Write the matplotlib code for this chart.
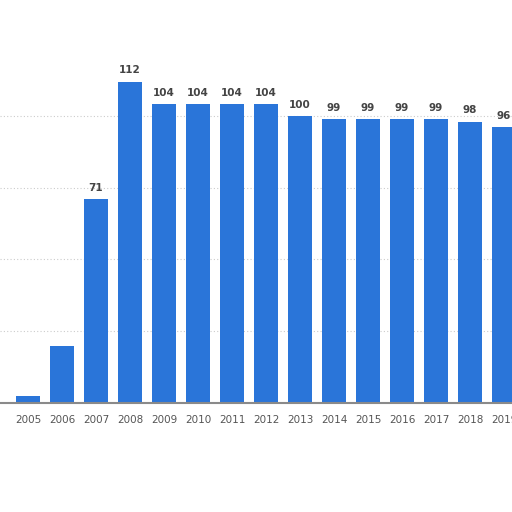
import numpy as np
import matplotlib.pyplot as plt

years = [str(y) for y in range(2005, 2020)]
values = [2.5, 20, 71, 112, 104, 104, 104, 104, 100, 99, 99, 99, 99, 98, 96]
shown_labels = [None, None, 71, 112, 104, 104, 104, 104, 100, 99, 99, 99, 99, 98, 96]

bar_color = '#2a75d9'

fig = plt.figure(figsize=(5.12, 5.12), dpi=100)
ax = fig.add_axes([0, 0.213, 1, 0.787])

x = np.arange(len(years))
ax.bar(x, values, width=0.7, color=bar_color, zorder=3)

for xi, lab, v in zip(x, shown_labels, values):
    if lab is None:
        continue
    ax.text(xi, v + 2.2, str(lab), ha='center', va='bottom',
            fontsize=7.5, fontweight='bold', color='#444444', zorder=4)

ax.set_xlim(-28 / 34, (512 - 28) / 34)
ax.set_ylim(0, 140.4)

for gy in [25, 50, 75, 100]:
    ax.axhline(gy, color='#cccccc', linestyle=(0, (1, 2)), linewidth=0.8, zorder=1)

ax.set_xticks(x)
ax.set_xticklabels(years, fontsize=7.5, color='#555555')
ax.tick_params(axis='x', length=0, pad=9)
ax.set_yticks([])

for s in ['top', 'right', 'left']:
    ax.spines[s].set_visible(False)
ax.spines['bottom'].set_color('#8a8a8a')
ax.spines['bottom'].set_linewidth(1.5)
ax.spines['bottom'].set_zorder(5)

fig.savefig('out.png', dpi=100)
plt.close(fig)
